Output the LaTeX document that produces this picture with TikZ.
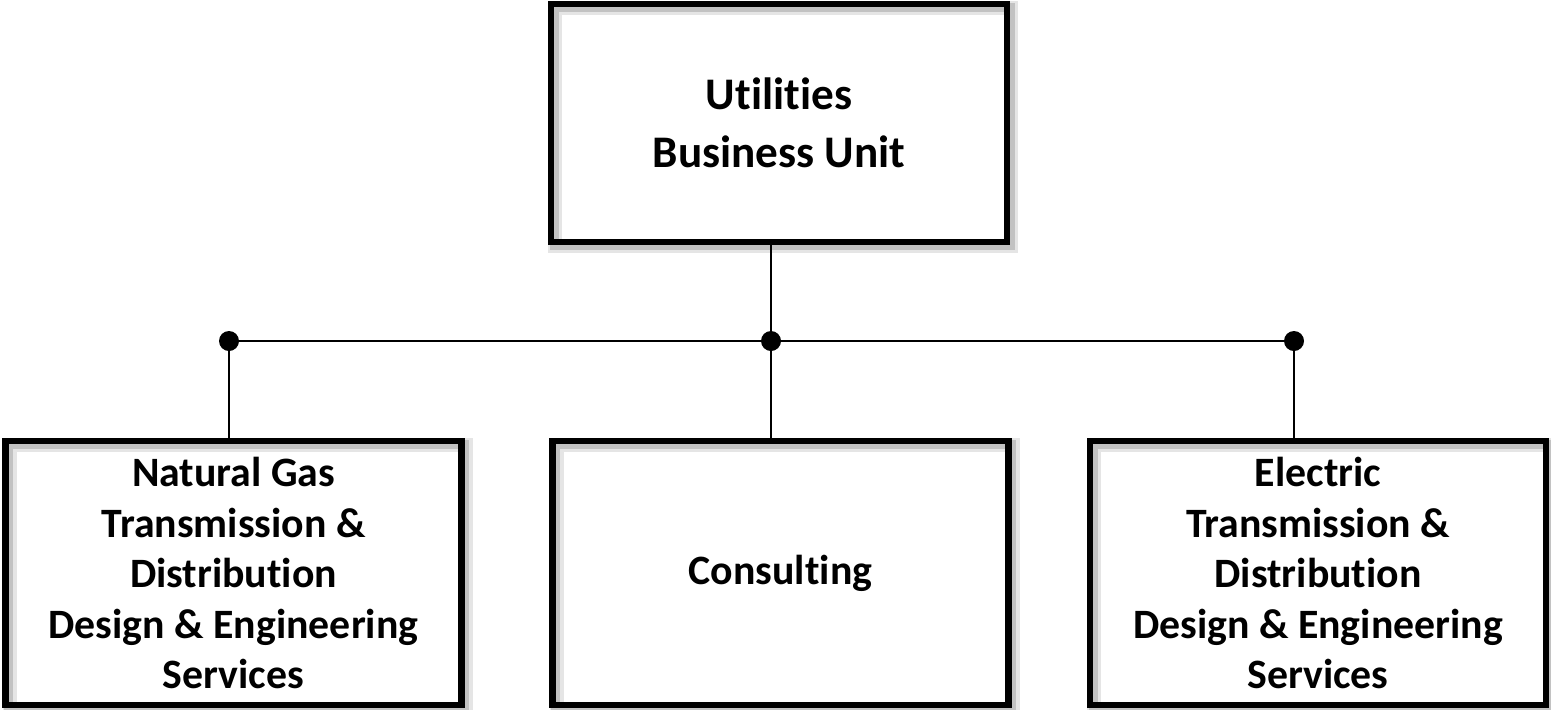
\documentclass[tikz,border=0pt]{standalone}
\usepackage{fontspec}
\setmainfont[Ligatures={NoCommon}]{Carlito}
\usepackage{tikz}

\begin{document}
\begin{tikzpicture}[x=0.5pt, y=-0.5pt,
    unitbox/.style={draw, line width=3.2pt, inner sep=0pt, align=center,
      minimum width=228pt,
      preaction={draw=black!10, line width=7pt, transform canvas={shift={(2pt,-2pt)}}},
      preaction={draw=black!24, line width=4.5pt, transform canvas={shift={(1.5pt,-1.5pt)}}}},
    hubdot/.style={circle, fill=black, inner sep=0pt, minimum size=10pt},
    wire/.style={line width=1pt}]
    \useasboundingbox (0,0) rectangle (1551,709);
    % unit
    \node [unitbox, minimum height=119pt,
      font=\bfseries\fontsize{22.6}{29}\selectfont] (unit) at (779,123)
      {Utilities\\Business Unit};
    % hubs
    \node [hubdot] (hubL) at (229,341) {};
    \node [hubdot] (hubC) at (771,341) {};
    \node [hubdot] (hubR) at (1294,341) {};
    % divisions
    \node [unitbox, minimum height=132pt,
      font=\bfseries\fontsize{20.9}{25.25}\selectfont] (gas) at (233.5,573)
      {Natural Gas\\Transmission \&\\Distribution\\Design \& Engineering\\Services};
    \node [unitbox, minimum height=132pt,
      font=\bfseries\fontsize{20.9}{25.25}\selectfont] (consult) at (780.5,573)
      {Consulting};
    \node [unitbox, minimum height=132pt,
      font=\bfseries\fontsize{20.9}{25.25}\selectfont] (electric) at (1318,573)
      {Electric\\Transmission \&\\Distribution\\Design \& Engineering\\Services};
    % wires
    \draw [wire] (hubC) -- (hubC |- unit.south);
    \draw [wire] (hubL) -- (hubC);
    \draw [wire] (hubC) -- (hubR);
    \draw [wire] (hubL) -- (hubL |- gas.north);
    \draw [wire] (hubC) -- (hubC |- consult.north);
    \draw [wire] (hubR) -- (hubR |- electric.north);
  \end{tikzpicture}
\end{document}
